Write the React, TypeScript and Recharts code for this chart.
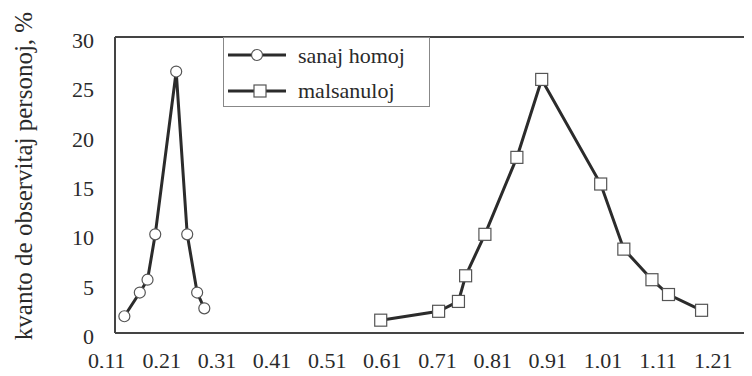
import React from 'react';
import { LineChart, Line, XAxis, YAxis, ReferenceLine, Legend } from 'recharts';

const xTicks = [0.11, 0.21, 0.31, 0.41, 0.51, 0.61, 0.71, 0.81, 0.91, 1.01, 1.11, 1.21];
const yTicks = [0, 5, 10, 15, 20, 25, 30];

const healthyX = [0.142, 0.170, 0.184, 0.198, 0.236, 0.256, 0.274, 0.287];
const healthyY = [1.7, 4.1, 5.4, 10.0, 26.5, 10.0, 4.1, 2.5];

const sickX = [0.607, 0.712, 0.748, 0.761, 0.796, 0.854, 0.899, 1.006, 1.048, 1.099, 1.129, 1.189];
const sickY = [1.3, 2.2, 3.2, 5.8, 10.0, 17.8, 25.7, 15.1, 8.5, 5.4, 3.9, 2.3];

const seriesNames = ['sanaj homoj', 'malsanuloj'];
const yTitle = 'kvanto de observitaj personoj, %';

const healthy = healthyX.map((x, i) => ({ x, y: healthyY[i] }));
const sick = sickX.map((x, i) => ({ x, y: sickY[i] }));

const FONT = "'Liberation Serif', 'DejaVu Serif', serif";
const INK = '#2a2a2a';
const LINE = '#2b2b2b';
const MARK = '#555';

const fmt = (v: number) => v.toFixed(2).replace('.', ',');

const XTick = (props: any) => {
  const { x, y, payload } = props;
  return (
    <text x={x} y={y + 35} textAnchor="middle" fontFamily={FONT} fontSize={22} fill={INK}>
      {fmt(payload.value)}
    </text>
  );
};

const YTick = (props: any) => {
  const { y, payload } = props;
  return (
    <text x={94} y={y + 11} textAnchor="end" fontFamily={FONT} fontSize={22} fill={INK}>
      {payload.value}
    </text>
  );
};

const CircleDot = (props: any) => {
  const { cx, cy, index } = props;
  return <circle key={'c' + index} cx={cx} cy={cy} r={5.5} fill="#fff" stroke={MARK} strokeWidth={1.2} />;
};

const SquareDot = (props: any) => {
  const { cx, cy, index } = props;
  return <rect key={'s' + index} x={cx - 6} y={cy - 6} width={12} height={12} fill="#fff" stroke={MARK} strokeWidth={1.2} />;
};

const rowText: React.CSSProperties = {
  position: 'absolute',
  left: 74,
  fontFamily: FONT,
  fontSize: 22,
  lineHeight: '22px',
  color: INK,
  whiteSpace: 'nowrap',
};

const LegendBox = () => (
  <div style={{ position: 'relative', width: 207, height: 70, background: '#fff', border: '1px solid #888', boxSizing: 'border-box' }}>
    <svg width={70} height={70} style={{ position: 'absolute', left: -1, top: -1 }}>
      <line x1={5} x2={63} y1={18} y2={18} stroke={LINE} strokeWidth={3} />
      <circle cx={34} cy={18} r={5.5} fill="#fff" stroke={MARK} strokeWidth={1.2} />
      <line x1={5} x2={63} y1={54} y2={54} stroke={LINE} strokeWidth={3} />
      <rect x={31} y={48} width={12} height={12} fill="#fff" stroke={MARK} strokeWidth={1.2} />
    </svg>
    <div style={{ ...rowText, top: 7 }}>{seriesNames[0]}</div>
    <div style={{ ...rowText, top: 42 }}>{seriesNames[1]}</div>
  </div>
);

const YLabel = () => (
  <text x={32} y={176} transform="rotate(-90 32 176)" textAnchor="middle" fontFamily={FONT} fontSize={25} fill={INK}>
    {yTitle}
  </text>
);

export default function App() {
  return (
    <div style={{ margin: -8, width: 752, height: 376, overflow: 'hidden', position: 'relative', background: '#fff' }}>
      <LineChart width={760} height={376} margin={{ top: 37, right: 0, bottom: 0, left: 0 }}>
        <XAxis
          type="number"
          dataKey="x"
          domain={[0.125, 1.295]}
          ticks={xTicks}
          interval={0}
          allowDataOverflow
          height={43}
          tickLine={false}
          tickSize={0}
          tickMargin={0}
          axisLine={{ stroke: '#444', strokeWidth: 2 }}
          tick={<XTick />}
        />
        <YAxis
          type="number"
          dataKey="y"
          domain={[0, 30]}
          ticks={yTicks}
          interval={0}
          width={115}
          tickLine={false}
          tickSize={0}
          tickMargin={0}
          axisLine={{ stroke: '#444', strokeWidth: 2 }}
          tick={<YTick />}
          label={<YLabel />}
        />
        <ReferenceLine y={30} stroke="#444" strokeWidth={2} />
        <Legend
          layout="vertical"
          align="center"
          verticalAlign="middle"
          wrapperStyle={{ position: 'absolute', left: 223, top: 37, width: 207, height: 70 }}
          content={<LegendBox />}
        />
        <Line
          data={healthy}
          dataKey="y"
          name={seriesNames[0]}
          stroke={LINE}
          strokeWidth={3}
          dot={<CircleDot />}
          activeDot={false}
          isAnimationActive={false}
        />
        <Line
          data={sick}
          dataKey="y"
          name={seriesNames[1]}
          stroke={LINE}
          strokeWidth={3}
          dot={<SquareDot />}
          activeDot={false}
          isAnimationActive={false}
        />
      </LineChart>
    </div>
  );
}
